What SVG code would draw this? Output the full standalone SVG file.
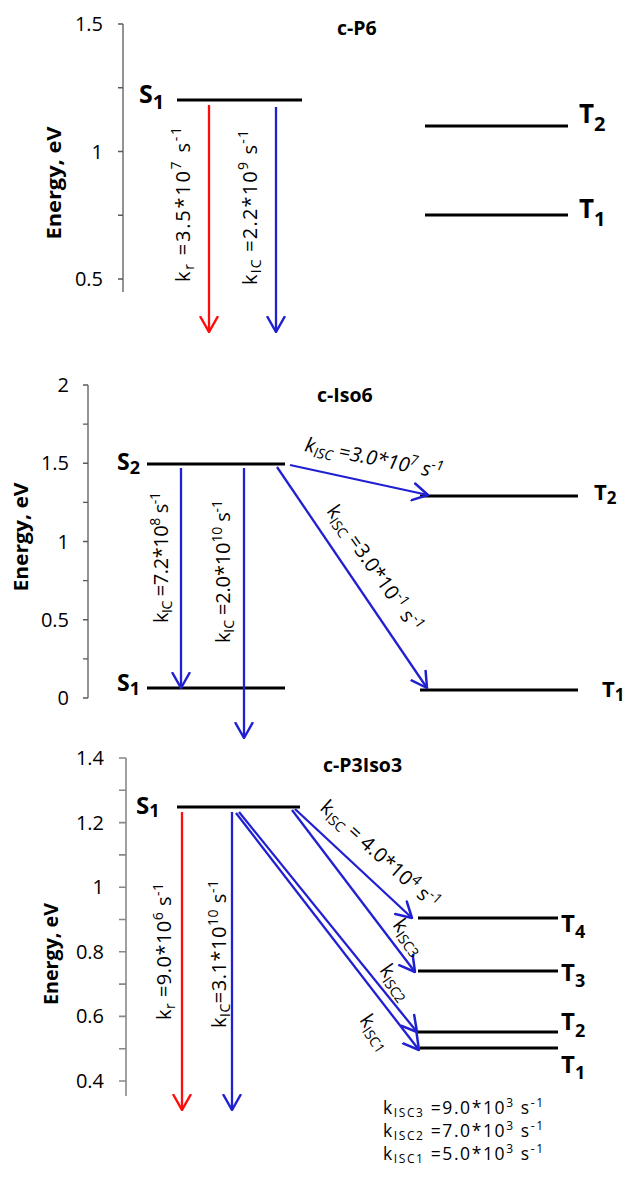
<svg xmlns="http://www.w3.org/2000/svg" width="629" height="1179" viewBox="0 0 629 1179">
<style>
text{font-family:"Open Sans","Liberation Sans",sans-serif;fill:#000}
.tick{font-size:20px;text-anchor:end}
.ax{stroke:#5a5a5a;stroke-width:1.3;fill:none}
.ax2{stroke:#888;stroke-width:1.6;fill:none}
.ylab{font-size:19px;font-weight:bold;text-anchor:middle}
.ttl{font-size:19.5px;font-weight:bold}
.lvl{stroke:#000;stroke-width:3}
.st{font-weight:bold}
.ab{stroke:#2020d2;stroke-width:2.3;fill:none;marker-end:url(#mb)}
.ar{stroke:#ff0d0d;stroke-width:2.3;fill:none;marker-end:url(#mr)}
.lab{font-size:20px}
.sb{font-size:14px}
.sp{font-size:14px}
.lg{font-size:17.5px}
.lg .sb,.lg .sp{font-size:12px}
</style>
<defs>
<marker id="mb" viewBox="0 0 17 20" refX="16" refY="10" markerWidth="17" markerHeight="20" markerUnits="userSpaceOnUse" orient="auto"><path d="M1,1.5 L16,10 L1,18.5" fill="none" stroke="#2020d2" stroke-width="2.5" stroke-linejoin="round" stroke-linecap="round"/></marker>
<marker id="mr" viewBox="0 0 17 20" refX="16" refY="10" markerWidth="17" markerHeight="20" markerUnits="userSpaceOnUse" orient="auto"><path d="M1,1.5 L16,10 L1,18.5" fill="none" stroke="#ff0d0d" stroke-width="2.5" stroke-linejoin="round" stroke-linecap="round"/></marker>
</defs>

<!-- ===== Panel 1: c-P6 ===== -->
<g id="axis1">
<path class="ax" d="M123,24 V292 M118,24 H123 M118,87.75 H123 M118,151.5 H123 M118,215.25 H123 M118,279 H123"/>
<text class="tick" x="103" y="31">1.5</text>
<text class="tick" x="103" y="158.5">1</text>
<text class="tick" x="103" y="286">0.5</text>
<text class="ylab" font-size="20" transform="translate(61,183) rotate(-90)" textLength="113" lengthAdjust="spacingAndGlyphs">Energy, eV</text>
</g>
<text id="title1" class="ttl" x="337" y="35">c-P6</text>
<g id="p1-S1"><line class="lvl" x1="177" y1="100" x2="302" y2="100"/><text class="st" x="139" y="103" font-size="25">S<tspan font-size="20" dy="6">1</tspan></text></g>
<g id="p1-T2"><line class="lvl" x1="425" y1="126" x2="568" y2="126"/><text class="st" x="579" y="123" font-size="26">T<tspan font-size="20" dy="8">2</tspan></text></g>
<g id="p1-T1"><line class="lvl" x1="425" y1="215" x2="568" y2="215"/><text class="st" x="579" y="218" font-size="26">T<tspan font-size="20" dy="8">1</tspan></text></g>
<g id="p1-connectors">
<line class="ar" x1="209" y1="105" x2="209" y2="332"/>
<line class="ab" x1="276" y1="107" x2="276" y2="332"/>
<text class="lab" font-size="22" transform="translate(190,282) rotate(-90)" textLength="155" lengthAdjust="spacing">k<tspan class="sb" dy="4">r</tspan><tspan dy="-4"> =3.5*10</tspan><tspan class="sp" dy="-9">7</tspan><tspan dy="9"> s</tspan><tspan class="sp" dy="-9">-1</tspan></text>
<text class="lab" font-size="22" transform="translate(257,285) rotate(-90)" textLength="155" lengthAdjust="spacing">k<tspan class="sb" dy="4">IC</tspan><tspan dy="-4"> =2.2*10</tspan><tspan class="sp" dy="-9">9</tspan><tspan dy="9"> s</tspan><tspan class="sp" dy="-9">-1</tspan></text>
</g>

<!-- ===== Panel 2: c-Iso6 ===== -->
<g id="axis2">
<path class="ax" d="M88,385 V698 M83,385 H88 M83,424.1 H88 M83,463.25 H88 M83,502.4 H88 M83,541.5 H88 M83,580.6 H88 M83,619.75 H88 M83,658.9 H88 M83,698 H88"/>
<text class="tick" x="69" y="392">2</text>
<text class="tick" x="69" y="470">1.5</text>
<text class="tick" x="69" y="548.5">1</text>
<text class="tick" x="69" y="627">0.5</text>
<text class="tick" x="69" y="705">0</text>
<text class="ylab" font-size="18" transform="translate(28,537) rotate(-90)" textLength="109" lengthAdjust="spacingAndGlyphs">Energy, eV</text>
</g>
<text id="title2" class="ttl" x="317" y="402">c-Iso6</text>
<g id="p2-S2"><line class="lvl" x1="147" y1="464" x2="285" y2="464"/><text class="st" x="117" y="470" font-size="23">S<tspan font-size="18" dy="4">2</tspan></text></g>
<g id="p2-S1"><line class="lvl" x1="147" y1="688" x2="285" y2="688"/><text class="st" x="117" y="691" font-size="23">S<tspan font-size="18" dy="4">1</tspan></text></g>
<g id="p2-T2"><line class="lvl" x1="420" y1="496" x2="578" y2="496"/><text class="st" x="594" y="500" font-size="22">T<tspan font-size="17" dy="4">2</tspan></text></g>
<g id="p2-T1"><line class="lvl" x1="420" y1="690" x2="578" y2="690"/><text class="st" x="602" y="697" font-size="22">T<tspan font-size="17" dy="4">1</tspan></text></g>
<g id="p2-connectors">
<line class="ab" x1="181" y1="468" x2="181" y2="688"/>
<line class="ab" x1="244" y1="468" x2="244" y2="738"/>
<line class="ab" x1="290" y1="465" x2="428" y2="495"/>
<line class="ab" x1="277" y1="467" x2="427" y2="688"/>
<text class="lab" font-size="19" transform="translate(168,623) rotate(-90)" textLength="131" lengthAdjust="spacing">k<tspan class="sb" dy="4">IC</tspan><tspan dy="-4"> =7.2*10</tspan><tspan class="sp" dy="-8">8</tspan><tspan dy="8"> s</tspan><tspan class="sp" dy="-8">-1</tspan></text>
<text class="lab" font-size="19" transform="translate(230,643) rotate(-90)" textLength="143" lengthAdjust="spacing">k<tspan class="sb" dy="4">IC</tspan><tspan dy="-4"> =2.0*10</tspan><tspan class="sp" dy="-8">10</tspan><tspan dy="8"> s</tspan><tspan class="sp" dy="-8">-1</tspan></text>
<text class="lab" font-size="19" font-style="italic" transform="translate(304,451) rotate(11.5)" textLength="140" lengthAdjust="spacing">k<tspan class="sb" dy="4">ISC</tspan><tspan dy="-4"> =3.0*10</tspan><tspan class="sp" dy="-8">7</tspan><tspan dy="8"> s</tspan><tspan class="sp" dy="-8">-1</tspan></text>
<text class="lab" font-size="19" transform="translate(326,511) rotate(55)" textLength="150" lengthAdjust="spacing">k<tspan class="sb" dy="4">ISC</tspan><tspan dy="-4"> =3.0*10</tspan><tspan class="sp" dy="-8">-1</tspan><tspan dy="8"> s</tspan><tspan class="sp" dy="-8">-1</tspan></text>
</g>

<!-- ===== Panel 3: c-P3Iso3 ===== -->
<g id="axis3">
<path class="ax2" d="M126,758 V1096 M119,758 H126 M119,790.3 H126 M119,822.6 H126 M119,854.9 H126 M119,887.2 H126 M119,919.5 H126 M119,951.8 H126 M119,984.1 H126 M119,1016.4 H126 M119,1048.7 H126 M119,1081 H126"/>
<text class="tick" x="104" y="765">1.4</text>
<text class="tick" x="104" y="829.5">1.2</text>
<text class="tick" x="104" y="894">1</text>
<text class="tick" x="104" y="958.5">0.8</text>
<text class="tick" x="104" y="1023">0.6</text>
<text class="tick" x="104" y="1087.5">0.4</text>
<text class="ylab" font-size="18" transform="translate(58,954) rotate(-90)" textLength="102" lengthAdjust="spacingAndGlyphs">Energy, eV</text>
</g>
<text id="title3" class="ttl" x="323" y="772">c-P3Iso3</text>
<g id="p3-S1"><line class="lvl" x1="177" y1="807" x2="300" y2="807"/><text class="st" x="136" y="814" font-size="24">S<tspan font-size="18" dy="3">1</tspan></text></g>
<g id="p3-T4"><line class="lvl" x1="418" y1="918" x2="558" y2="918"/><text class="st" x="561" y="932" font-size="24">T<tspan font-size="18" dy="6">4</tspan></text></g>
<g id="p3-T3"><line class="lvl" x1="418" y1="971" x2="558" y2="971"/><text class="st" x="561" y="981" font-size="24">T<tspan font-size="18" dy="6">3</tspan></text></g>
<g id="p3-T2"><line class="lvl" x1="418" y1="1032" x2="558" y2="1032"/><text class="st" x="561" y="1030" font-size="24">T<tspan font-size="18" dy="7">2</tspan></text></g>
<g id="p3-T1"><line class="lvl" x1="420" y1="1048" x2="558" y2="1048"/><text class="st" x="561" y="1073" font-size="24">T<tspan font-size="18" dy="6">1</tspan></text></g>
<g id="p3-connectors">
<line class="ar" x1="182" y1="812" x2="182" y2="1110"/>
<line class="ab" x1="232" y1="812" x2="232" y2="1110"/>
<line class="ab" x1="295" y1="809" x2="412" y2="918"/>
<line class="ab" x1="292" y1="810" x2="415" y2="972"/>
<line class="ab" x1="239" y1="812" x2="417" y2="1032"/>
<line class="ab" x1="236" y1="813" x2="419" y2="1050"/>
<text class="lab" font-size="20" transform="translate(171,1020) rotate(-90)" textLength="137" lengthAdjust="spacing">k<tspan class="sb" dy="4">r</tspan><tspan dy="-4"> =9.0*10</tspan><tspan class="sp" dy="-8">6</tspan><tspan dy="8"> s</tspan><tspan class="sp" dy="-8">-1</tspan></text>
<text class="lab" font-size="20" transform="translate(226,1028) rotate(-90)" textLength="148" lengthAdjust="spacing">k<tspan class="sb" dy="4">IC</tspan><tspan dy="-4">=3.1*10</tspan><tspan class="sp" dy="-8">10</tspan><tspan dy="8"> s</tspan><tspan class="sp" dy="-8">-1</tspan></text>
<text class="lab" font-size="19" transform="translate(319,809) rotate(42)" textLength="152" lengthAdjust="spacing">k<tspan class="sb" dy="4">ISC</tspan><tspan dy="-4"> = 4.0*10</tspan><tspan class="sp" dy="-8">4</tspan><tspan dy="8"> s</tspan><tspan class="sp" dy="-8">-1</tspan></text>
<text class="lab" font-size="19" transform="translate(392,925) rotate(54)">k<tspan class="sb" dy="4">ISC3</tspan></text>
<text class="lab" font-size="19" transform="translate(379,970) rotate(55)">k<tspan class="sb" dy="4">ISC2</tspan></text>
<text class="lab" font-size="19" transform="translate(359,1020) rotate(56)">k<tspan class="sb" dy="4">ISC1</tspan></text>
</g>
<g id="legend" class="lg">
<text x="383" y="1114" textLength="160" lengthAdjust="spacing">k<tspan class="sb" dy="3">ISC3</tspan><tspan dy="-3"> =9.0*10</tspan><tspan class="sp" dy="-7">3</tspan><tspan dy="7"> s</tspan><tspan class="sp" dy="-7">-1</tspan></text>
<text x="383" y="1137" textLength="160" lengthAdjust="spacing">k<tspan class="sb" dy="3">ISC2</tspan><tspan dy="-3"> =7.0*10</tspan><tspan class="sp" dy="-7">3</tspan><tspan dy="7"> s</tspan><tspan class="sp" dy="-7">-1</tspan></text>
<text x="383" y="1160" textLength="160" lengthAdjust="spacing">k<tspan class="sb" dy="3">ISC1</tspan><tspan dy="-3"> =5.0*10</tspan><tspan class="sp" dy="-7">3</tspan><tspan dy="7"> s</tspan><tspan class="sp" dy="-7">-1</tspan></text>
</g>
</svg>
